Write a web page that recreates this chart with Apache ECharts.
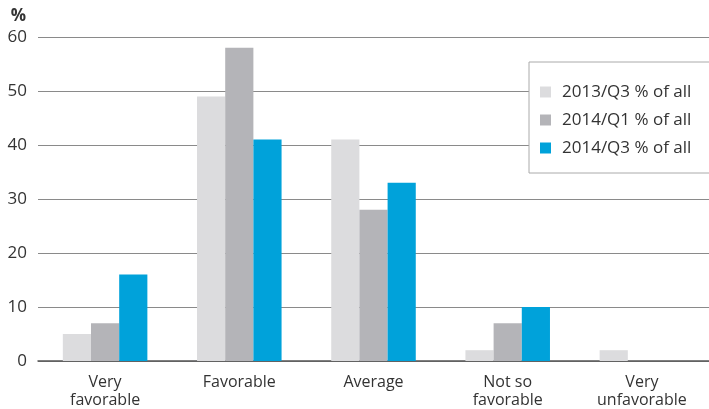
<!DOCTYPE html>
<html><head><meta charset="utf-8">
<script src="https://cdn.jsdelivr.net/npm/echarts@6/dist/echarts.min.js"></script>
<style>html,body{margin:0;padding:0;background:#fff}#c{width:709px;height:409px}</style>
</head><body><div id="c"></div>
<script>
const categories = ['Very\nfavorable', 'Favorable', 'Average', 'Not so\nfavorable', 'Very\nunfavorable'];
const seriesNames = ['2013/Q3 % of all', '2014/Q1 % of all', '2014/Q3 % of all'];
const s2013Q3 = [5, 49, 41, 2, 2];
const s2014Q1 = [7, 58, 28, 7, 0];
const s2014Q3 = [16, 41, 33, 10, 0];
const colors = ['#dcdcde', '#b4b4b8', '#00a2da'];
const font = '"Open Sans", sans-serif';

const chart = echarts.init(document.getElementById('c'));
chart.setOption({
  animation: false,
  textStyle: { fontFamily: font, color: '#333' },
  grid: { left: 38, right: 0, top: 37, bottom: 47, containLabel: false },
  legend: {
    orient: 'vertical', left: 529, top: 62, width: 220,
    backgroundColor: '#fff', borderColor: '#aaa', borderWidth: 1,
    padding: [19, 60, 14, 11],
    itemWidth: 11, itemHeight: 11, itemGap: 6, icon: 'rect',
    textStyle: { fontFamily: font, fontSize: 17, color: '#333', lineHeight: 22, padding: [0, 0, 0, 6] },
    data: seriesNames
  },
  xAxis: {
    type: 'category', data: categories,
    axisLine: { lineStyle: { color: '#555', width: 1.5 } },
    axisTick: { show: false },
    axisLabel: { fontFamily: font, fontSize: 16, color: '#333', lineHeight: 18, margin: 12 }
  },
  yAxis: {
    type: 'value', min: 0, max: 60, interval: 10,
    name: '%', nameLocation: 'end', nameGap: 12,
    nameTextStyle: { fontFamily: font, fontSize: 17, fontWeight: 'bold', color: '#333', align: 'right', padding: [0, 12, 0, 0] },
    axisLine: { show: false }, axisTick: { show: false },
    axisLabel: { fontFamily: font, fontSize: 17, color: '#333', margin: 11 },
    splitLine: { lineStyle: { color: '#8a8a8a', width: 1.2 } }
  },
  series: [
    { name: seriesNames[0], type: 'bar', data: s2013Q3, itemStyle: { color: colors[0] }, barGap: '0%', barCategoryGap: '37%' },
    { name: seriesNames[1], type: 'bar', data: s2014Q1, itemStyle: { color: colors[1] }, barGap: '0%', barCategoryGap: '37%' },
    { name: seriesNames[2], type: 'bar', data: s2014Q3, itemStyle: { color: colors[2] }, barGap: '0%', barCategoryGap: '37%' }
  ]
});
</script></body></html>
